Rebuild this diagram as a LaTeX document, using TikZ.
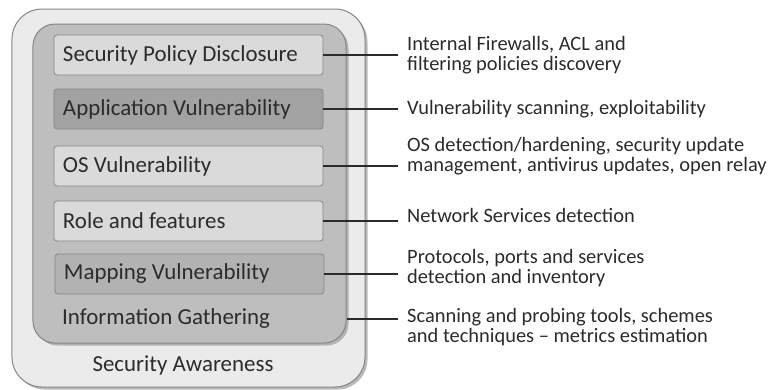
\documentclass[tikz,border=0pt]{standalone}
\usepackage{fontspec}
\setmainfont{Carlito}
\usetikzlibrary{shadows}
\definecolor{outerfill}{HTML}{EBEBEB}
\definecolor{innerfill}{HTML}{BEBEBE}
\definecolor{lightbox}{HTML}{DADADA}
\definecolor{darkbox}{HTML}{A2A2A2}
\definecolor{mapbox}{HTML}{B2B2B2}
\definecolor{edgegray}{HTML}{858585}
\definecolor{txtgray}{HTML}{2B2B2B}
\begin{document}
\begin{tikzpicture}[x=1bp, y=-1bp,
    layer/.style={draw=edgegray, line width=1bp, rounded corners=#1,
        drop shadow={shadow xshift=2.5bp, shadow yshift=-2.5bp, fill=black!45, opacity=0.6}},
    boxlevel/.style={draw=edgegray, line width=0.8bp, rounded corners=3bp, fill=#1,
        minimum width=269bp, minimum height=40bp, text width=251bp, inner xsep=9bp,
        align=left, font=\fontsize{23}{26}\selectfont, text=txtgray,
        execute at begin node={\spaceskip=0pt\xspaceskip=0pt}},
    layertext/.style={font=\fontsize{23}{26}\selectfont, text=txtgray, inner sep=0pt},
    note/.style={anchor=west, align=left, inner xsep=9bp, inner ysep=0pt,
        font=\fontsize{20.5}{20}\selectfont, text=txtgray},
    link/.style={draw=txtgray, line width=1.2bp}]
    \useasboundingbox (0,0) rectangle (768,389);

    % Nested layers
    \node[layer=30bp, fill=outerfill, minimum width=353bp, minimum height=378bp] (aware) at (188.5,198) {};
    \node[layer=22bp, fill=innerfill, minimum width=313bp, minimum height=319bp] (gather) at (189.5,183.5) {};

    % Levels inside the information gathering layer
    \node[boxlevel=lightbox] (spd) at (188.5,55) {Security Policy Disclosure};
    \node[boxlevel=darkbox]  (app) at (188.5,109) {Application Vulnerability};
    \node[boxlevel=lightbox] (os)  at (188.5,166) {OS Vulnerability};
    \node[boxlevel=lightbox] (rf)  at (188.5,221) {Role and features};
    \node[boxlevel=mapbox]   (map) at (189.5,274) {Mapping Vulnerability};

    \node[layertext, anchor=west] (ig) at (62,319) {Information Gathering};
    \node[layertext] (sa) at (183,365) {Security Awareness};

    % Descriptions on the right
    \node[note] (l1) at (398,55) {Internal Firewalls, ACL and\\filtering policies discovery};
    \node[note] (l2) at (398,109) {Vulnerability scanning, exploitability};
    \node[note] (l3) at (398,156) {OS detection/hardening, security update\\management, antivirus updates, open relay};
    \node[note] (l4) at (398,215) {Network Services detection};
    \node[note] (l5) at (398,268) {Protocols, ports and services\\detection and inventory};
    \node[note] (l6) at (398,327) {Scanning and probing tools, schemes\\and techniques -- metrics estimation};

    % Connectors
    \draw[link] (spd.east) -- (spd.east -| l1.west);
    \draw[link] (app.east) -- (app.east -| l2.west);
    \draw[link] (os.east) -- (os.east -| l3.west);
    \draw[link] (rf.east) -- (rf.east -| l4.west);
    \draw[link] (map.east) -- (map.east -| l5.west);
    \draw[link] (gather.east |- ig.west) -- (ig.west -| l6.west);
\end{tikzpicture}
\end{document}
